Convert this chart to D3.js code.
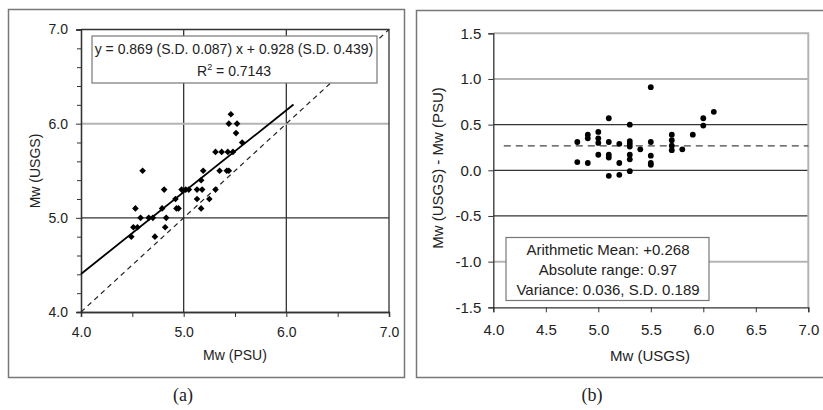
<!DOCTYPE html>
<html>
<head>
<meta charset="utf-8">
<script src="https://cdn.jsdelivr.net/npm/d3@7"></script>
<style>
  body { margin: 0; background: #fff; }
  text { font-family: "Liberation Sans", Arial, sans-serif; fill: #222; }
  .cap { font-family: "Liberation Serif", "Times New Roman", serif; }
</style>
</head>
<body>
<svg id="chart" width="823" height="410"></svg>
<script>
// earthquakes: magnitude by USGS vs PSU, and the difference
const usgs = [4.8, 4.8, 4.9, 4.9, 4.9, 5.0, 5.0, 5.0, 5.0, 5.1, 5.1, 5.1, 5.1, 5.1,
  5.2, 5.2, 5.2, 5.3, 5.3, 5.3, 5.3, 5.3, 5.3, 5.3, 5.4, 5.5, 5.5, 5.5, 5.5, 5.5,
  5.7, 5.7, 5.7, 5.7, 5.8, 5.9, 6.0, 6.0, 6.1];
const psu = [4.49, 4.72, 4.51, 4.55, 4.82, 4.58, 4.66, 4.70, 4.83, 4.53, 4.79, 4.93, 4.95, 5.17,
  4.92, 5.13, 5.25, 4.81, 4.98, 5.02, 5.05, 5.13, 5.18, 5.31, 5.17, 4.60, 5.19, 5.35, 5.42, 5.44,
  5.31, 5.37, 5.43, 5.48, 5.57, 5.51, 5.44, 5.52, 5.46];
const diff = [0.31, 0.09, 0.39, 0.35, 0.08, 0.42, 0.35, 0.30, 0.17, 0.57, 0.31, 0.17, 0.14, -0.06,
  0.29, 0.08, -0.05, 0.50, 0.32, 0.29, 0.26, 0.17, 0.12, -0.01, 0.23, 0.91, 0.31, 0.16, 0.08, 0.06,
  0.39, 0.33, 0.27, 0.22, 0.23, 0.39, 0.57, 0.49, 0.64];

const fitSlope = 0.869, fitIntercept = 0.928, fitRange = [4.0, 6.07];
const meanDiff = 0.268, meanRange = [4.1, 7.0];

const aTicks = [4.0, 5.0, 6.0, 7.0];
const aMinorX = [4.5, 5.5, 6.5];
const aMinorY = [4.2, 4.4, 4.6, 4.8, 5.2, 5.4, 5.6, 5.8, 6.2, 6.4, 6.6, 6.8];
const aGrid = [5.0, 6.0];
const aLegend = ["y = 0.869 (S.D. 0.087) x + 0.928 (S.D. 0.439)", "R² = 0.7143"];

const bTicksX = [4.0, 4.5, 5.0, 5.5, 6.0, 6.5, 7.0];
const bTicksY = [-1.5, -1.0, -0.5, 0.0, 0.5, 1.0, 1.5];
const bGrid = [-1.0, -0.5, 0.0, 0.5, 1.0];
const bLegend = ["Arithmetic Mean: +0.268", "Absolute range: 0.97", "Variance: 0.036, S.D. 0.189"];

const dark = "#333", light = "#b4b4b4";
const fmt = d => d.toFixed(1); // plain hyphen for negatives, like the original
const svg = d3.select("#chart");

// panel frames
svg.append("rect").attr("x", 8.5).attr("y", 9.5).attr("width", 396).attr("height", 368)
  .attr("fill", "none").attr("stroke", "#777").attr("stroke-width", 1.5);
svg.append("rect").attr("x", 416.5).attr("y", 10.5).attr("width", 420).attr("height", 367)
  .attr("fill", "none").attr("stroke", "#777").attr("stroke-width", 1.5);

// ---------- panel (a) ----------
const xa = d3.scaleLinear().domain([4, 7]).range([81, 389]);
const ya = d3.scaleLinear().domain([4, 7]).range([312, 29.5]);
const ga = svg.append("g");

ga.selectAll("line.gx").data(aGrid).join("line")
  .attr("x1", d => xa(d)).attr("x2", d => xa(d)).attr("y1", ya(4)).attr("y2", ya(7))
  .attr("stroke", dark).attr("stroke-width", 1.3);
ga.selectAll("line.gy").data(aGrid).join("line")
  .attr("x1", xa(4)).attr("x2", xa(7)).attr("y1", d => ya(d)).attr("y2", d => ya(d))
  .attr("stroke", d => d === 6 ? light : dark).attr("stroke-width", d => d === 6 ? 2 : 1.3);
ga.append("path")
  .attr("d", `M${xa(4)},${ya(7)}H${xa(7)}V${ya(4)}`)
  .attr("fill", "none").attr("stroke", dark).attr("stroke-width", 1.3);

const axA = (g, ax) => {
  g.call(ax);
  g.select(".domain").attr("stroke", dark).attr("stroke-width", 1.3);
  g.selectAll(".tick line").attr("stroke", dark);
  g.selectAll(".tick text").attr("font-size", 14).attr("fill", "#222");
};
ga.append("g").attr("transform", `translate(0,${ya(4)})`)
  .call(g => axA(g, d3.axisBottom(xa).tickValues(aTicks).tickFormat(fmt).tickSize(5).tickPadding(10)));
ga.append("g").attr("transform", `translate(0,${ya(4)})`)
  .call(g => axA(g, d3.axisBottom(xa).tickValues(aMinorX).tickFormat("").tickSize(5)));
ga.append("g").attr("transform", `translate(${xa(4)},0)`)
  .call(g => axA(g, d3.axisLeft(ya).tickValues(aTicks).tickFormat(fmt).tickSize(5).tickPadding(8)));
ga.append("g").attr("transform", `translate(${xa(4)},0)`)
  .call(g => axA(g, d3.axisLeft(ya).tickValues(aMinorY).tickFormat("").tickSize(4)));

// 1:1 dashed line and the fitted line
ga.append("line")
  .attr("x1", xa(4)).attr("y1", ya(4)).attr("x2", xa(7)).attr("y2", ya(7))
  .attr("stroke", "#222").attr("stroke-width", 1.2).attr("stroke-dasharray", "5,4");
ga.append("line")
  .attr("x1", xa(fitRange[0])).attr("y1", ya(fitSlope * fitRange[0] + fitIntercept))
  .attr("x2", xa(fitRange[1])).attr("y2", ya(fitSlope * fitRange[1] + fitIntercept))
  .attr("stroke", "#000").attr("stroke-width", 1.8);

const diamond = d3.symbol(d3.symbolSquare, 22);
ga.selectAll("path.pt").data(psu).join("path")
  .attr("d", diamond)
  .attr("transform", (d, i) => `translate(${xa(d)},${ya(usgs[i])}) rotate(45)`)
  .attr("fill", "#000");

ga.append("rect").attr("x", 92).attr("y", 36).attr("width", 285).attr("height", 47)
  .attr("fill", "#fff").attr("stroke", "#777").attr("stroke-width", 1.2);
ga.append("text").attr("x", 234).attr("y", 54).attr("text-anchor", "middle")
  .attr("font-size", 14).text(aLegend[0]);
const r2 = ga.append("text").attr("x", 234).attr("y", 76).attr("text-anchor", "middle")
  .attr("font-size", 14);
r2.append("tspan").text("R");
r2.append("tspan").attr("dy", -6).attr("font-size", 9).text("2");
r2.append("tspan").attr("dy", 6).text(" = 0.7143");

ga.append("text").attr("x", 235).attr("y", 360).attr("text-anchor", "middle")
  .attr("font-size", 14).attr("fill", "#333").text("Mw (PSU)");
ga.append("text").attr("transform", "translate(40,171) rotate(-90)").attr("text-anchor", "middle")
  .attr("font-size", 14).attr("fill", "#3a3030").text("Mw (USGS)");
ga.append("text").attr("class", "cap").attr("x", 183).attr("y", 401).attr("text-anchor", "middle")
  .attr("font-size", 18).text("(a)");

// ---------- panel (b) ----------
const xb = d3.scaleLinear().domain([4, 7]).range([493.3, 808.3]);
const yb = d3.scaleLinear().domain([-1.5, 1.5]).range([307.3, 33.3]);
const gb = svg.append("g");

gb.selectAll("line.gy").data(bGrid).join("line")
  .attr("x1", xb(4)).attr("x2", xb(7)).attr("y1", d => yb(d)).attr("y2", d => yb(d))
  .attr("stroke", d => Math.abs(d) === 1 ? light : dark)
  .attr("stroke-width", d => Math.abs(d) === 1 ? 2 : 1.3);
gb.append("path")
  .attr("d", `M${xb(4)},${yb(1.5)}H${xb(7)}V${yb(-1.5)}`)
  .attr("fill", "none").attr("stroke", light).attr("stroke-width", 2);

const axB = (g, ax) => {
  g.call(ax);
  g.select(".domain").attr("stroke", dark).attr("stroke-width", 1.3);
  g.selectAll(".tick line").attr("stroke", dark);
  g.selectAll(".tick text").attr("font-size", 15).attr("fill", "#222");
};
gb.append("g").attr("transform", `translate(0,${yb(-1.5)})`)
  .call(g => axB(g, d3.axisBottom(xb).tickValues(bTicksX).tickFormat(fmt).tickSize(5).tickPadding(12)));
gb.append("g").attr("transform", `translate(${xb(4)},0)`)
  .call(g => axB(g, d3.axisLeft(yb).tickValues(bTicksY).tickFormat(fmt).tickSize(5).tickPadding(7)));

gb.append("line")
  .attr("x1", xb(meanRange[0])).attr("x2", xb(meanRange[1]))
  .attr("y1", yb(meanDiff)).attr("y2", yb(meanDiff))
  .attr("stroke", "#444").attr("stroke-width", 1.3).attr("stroke-dasharray", "7,5");

gb.selectAll("circle.pt").data(diff).join("circle")
  .attr("cx", (d, i) => xb(usgs[i])).attr("cy", d => yb(d))
  .attr("r", 2.9).attr("fill", "#000");

gb.append("rect").attr("x", 506).attr("y", 237.5).attr("width", 203).attr("height", 63)
  .attr("fill", "#fff").attr("stroke", "#777").attr("stroke-width", 1.2);
gb.selectAll("text.leg").data(bLegend).join("text")
  .attr("x", 608).attr("y", (d, i) => 255 + i * 20).attr("text-anchor", "middle")
  .attr("font-size", 15).text(d => d);

gb.append("text").attr("x", 650).attr("y", 361).attr("text-anchor", "middle")
  .attr("font-size", 15).attr("fill", "#333").text("Mw (USGS)");
gb.append("text").attr("transform", "translate(443,168) rotate(-90)").attr("text-anchor", "middle")
  .attr("font-size", 15).attr("fill", "#333").text("Mw (USGS) - Mw (PSU)");
gb.append("text").attr("class", "cap").attr("x", 592).attr("y", 401).attr("text-anchor", "middle")
  .attr("font-size", 18).text("(b)");
</script>
</body>
</html>
